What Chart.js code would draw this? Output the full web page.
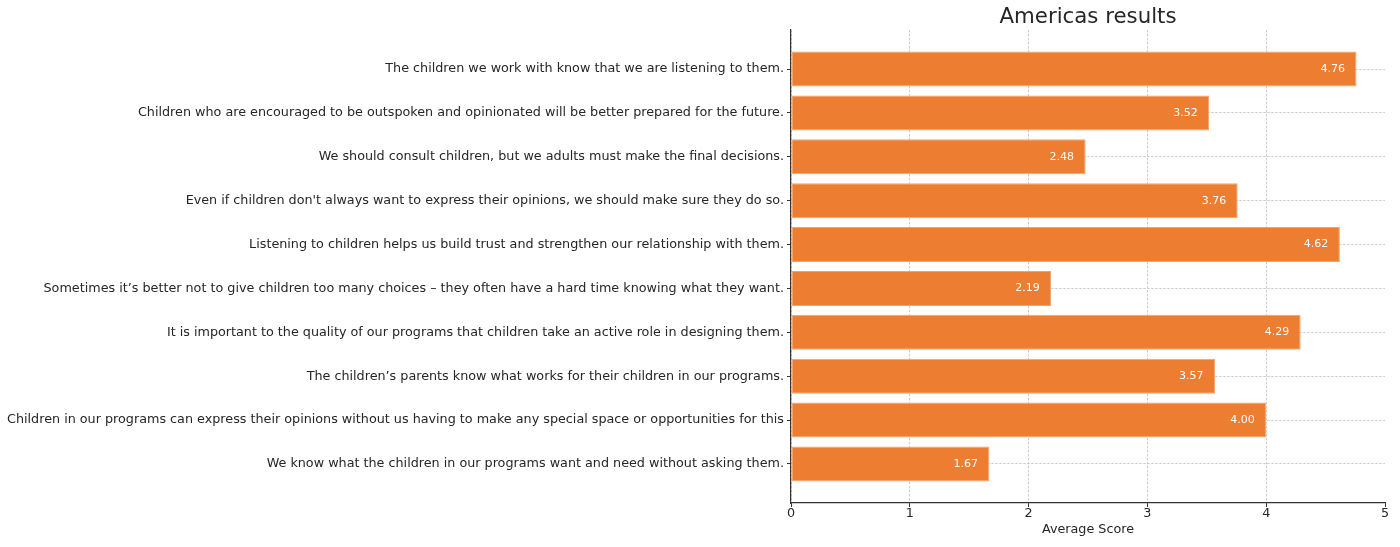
<!DOCTYPE html>
<html>
<head>
<meta charset="utf-8">
<script src="https://cdn.jsdelivr.net/npm/chart.js@4/dist/chart.umd.min.js"></script>
<style>
html,body{margin:0;padding:0;background:#fff;}
#wrap{width:1400px;height:547px;position:relative;}
</style>
</head>
<body>
<div id="wrap"><canvas id="c" width="1400" height="547"></canvas></div>
<script>
const categories = [
  "The children we work with know that we are listening to them.",
  "Children who are encouraged to be outspoken and opinionated will be better prepared for the future.",
  "We should consult children, but we adults must make the final decisions.",
  "Even if children don't always want to express their opinions, we should make sure they do so.",
  "Listening to children helps us build trust and strengthen our relationship with them.",
  "Sometimes it\u2019s better not to give children too many choices \u2013 they often have a hard time knowing what they want.",
  "It is important to the quality of our programs that children take an active role in designing them.",
  "The children\u2019s parents know what works for their children in our programs.",
  "Children in our programs can express their opinions without us having to make any special space or opportunities for this",
  "We know what the children in our programs want and need without asking them."
];
const scores = [4.76, 3.52, 2.48, 3.76, 4.62, 2.19, 4.29, 3.57, 4.00, 1.67];
const xTicks = [0, 1, 2, 3, 4, 5];
const titleText = "Americas results";
const xTitle = "Average Score";

const FONT = "'DejaVu Sans', sans-serif";
const gridColor = 'rgba(185,185,185,0.7)';

const valueLabels = {
  id: 'valueLabels',
  afterDatasetsDraw(chart) {
    const ctx = chart.ctx;
    const xs = chart.scales.x, ys = chart.scales.y;
    ctx.save();
    ctx.fillStyle = '#ffffff';
    ctx.font = "11px " + FONT;
    ctx.textAlign = 'center';
    ctx.textBaseline = 'middle';
    scores.forEach((v, i) => {
      ctx.fillText(v.toFixed(2), xs.getPixelForValue(v - 0.2), ys.getPixelForValue(i));
    });
    ctx.restore();
  },
  afterDraw(chart) {
    const ctx = chart.ctx;
    const a = chart.chartArea;
    ctx.save();
    ctx.fillStyle = '#262626';
    ctx.font = "21.3px " + FONT;
    ctx.textAlign = 'center';
    ctx.textBaseline = 'middle';
    ctx.fillText(titleText, (a.left + a.right) / 2, a.top - 13);
    ctx.restore();
  }
};

new Chart(document.getElementById('c'), {
  type: 'bar',
  data: {
    datasets: [{
      data: scores.map((v, i) => ({x: v, y: i})),
      backgroundColor: '#ED7D31',
      borderColor: '#F3A36B',
      borderWidth: 1,
      borderSkipped: false,
      barPercentage: 0.8,
      categoryPercentage: 1.0
    }]
  },
  options: {
    indexAxis: 'y',
    responsive: false,
    animation: false,
    devicePixelRatio: 1,
    layout: {padding: {top: 30, right: 15, left: 0, bottom: 0}},
    plugins: {legend: {display: false}, tooltip: {enabled: false}, title: {display: false}},
    scales: {
      x: {
        type: 'linear',
        min: 0, max: 5,
        z: 1,
        offset: false,
        afterBuildTicks(scale) { scale.ticks = xTicks.map(v => ({value: v})); },
        afterFit(scale) { scale.height = 44; },
        grid: {
          color: (c) => (c.tick && c.tick.value === 5) ? 'rgba(0,0,0,0)' : gridColor,
          offset: false, tickColor: '#333', tickLength: 4, tickBorderDash: []
        },
        border: {display: true, color: '#333', width: 1.2, dash: [2.5, 1.5]},
        ticks: {color: '#262626', font: {family: FONT, size: 12.75}, padding: -1},
        title: {display: true, text: xTitle, color: '#262626', font: {family: FONT, size: 12.75}, padding: {top: 0, bottom: 10}}
      },
      y: {
        type: 'linear',
        min: -0.89, max: 9.89,
        reverse: true,
        offset: false,
        z: 1,
        afterBuildTicks(scale) { scale.ticks = categories.map((_, i) => ({value: i})); },
        afterFit(scale) { scale.width = 791; },
        grid: {color: gridColor, offset: false, tickColor: '#333', tickLength: 4, tickBorderDash: []},
        border: {display: true, color: '#333', width: 1.2, dash: [2.5, 1.5]},
        ticks: {
          color: '#262626', font: {family: FONT, size: 12.75}, padding: 3, autoSkip: false,
          callback: (v) => categories[v] !== undefined ? categories[v] : ''
        }
      }
    }
  },
  plugins: [valueLabels]
});
</script>
</body>
</html>
